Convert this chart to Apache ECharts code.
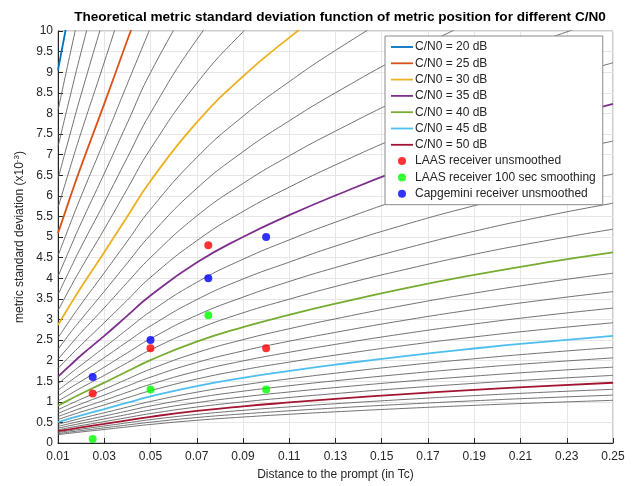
<!DOCTYPE html>
<html>
<head>
<meta charset="utf-8">
<script src="https://cdn.jsdelivr.net/npm/echarts@6/dist/echarts.min.js"></script>
<style>html,body{margin:0;padding:0;background:#fff}#c{width:640px;height:486px}</style>
</head>
<body>
<div id="c"></div>
<script>
// x positions (distance to the prompt, in Tc) at which each curve was read
const xs = [0.01, 0.015, 0.02, 0.03, 0.04, 0.05, 0.07, 0.09, 0.11, 0.13, 0.16, 0.19, 0.22, 0.25];
// metric standard deviation (x1e-3) read for each C/N0 curve (dB-Hz)
const c20 = [9.05, 10.53];
const c21 = [8.07, 9.38, 10.65];
const c22 = [7.19, 8.36, 9.49, 11.63];
const c23 = [6.41, 7.45, 8.46, 10.36];
const c24 = [5.71, 6.64, 7.54, 9.24, 10.98];
const c25 = [5.09, 5.92, 6.72, 8.23, 9.78, 11.31];
const c26 = [4.54, 5.28, 5.99, 7.34, 8.72, 10.08];
const c27 = [4.04, 4.70, 5.34, 6.54, 7.77, 8.99, 10.99];
const c28 = [3.60, 4.19, 4.76, 5.83, 6.93, 8.01, 9.79, 11.20];
const c29 = [3.21, 3.74, 4.24, 5.19, 6.17, 7.14, 8.73, 9.98, 11.04];
const c30 = [2.86, 3.33, 3.78, 4.63, 5.50, 6.36, 7.78, 8.90, 9.84, 10.69];
const c31 = [2.55, 2.97, 3.37, 4.13, 4.90, 5.67, 6.93, 7.93, 8.77, 9.53, 10.57];
const c32 = [2.27, 2.65, 3.00, 3.68, 4.37, 5.05, 6.18, 7.07, 7.82, 8.50, 9.43, 10.25];
const c33 = [2.03, 2.36, 2.68, 3.28, 3.90, 4.50, 5.51, 6.30, 6.97, 7.57, 8.40, 9.13, 9.78, 10.35];
const c34 = [1.81, 2.10, 2.38, 2.92, 3.47, 4.02, 4.91, 5.62, 6.21, 6.75, 7.49, 8.14, 8.72, 9.23];
const c35 = [1.61, 1.87, 2.13, 2.60, 3.09, 3.58, 4.38, 5.00, 5.53, 6.01, 6.67, 7.26, 7.77, 8.23];
const c36 = [1.43, 1.67, 1.89, 2.32, 2.76, 3.19, 3.90, 4.46, 4.93, 5.36, 5.95, 6.47, 6.93, 7.33];
const c37 = [1.28, 1.49, 1.69, 2.07, 2.46, 2.84, 3.48, 3.98, 4.39, 4.78, 5.30, 5.76, 6.17, 6.53];
const c38 = [1.14, 1.33, 1.50, 1.84, 2.19, 2.53, 3.10, 3.54, 3.92, 4.26, 4.72, 5.14, 5.50, 5.82];
const c39 = [1.02, 1.18, 1.34, 1.64, 1.95, 2.26, 2.76, 3.16, 3.49, 3.80, 4.21, 4.58, 4.90, 5.19];
const c40 = [0.905, 1.053, 1.195, 1.464, 1.74, 2.012, 2.46, 2.814, 3.111, 3.382, 3.752, 4.08, 4.37, 4.625];
const c41 = [0.807, 0.939, 1.065, 1.305, 1.551, 1.793, 2.193, 2.508, 2.773, 3.014, 3.344, 3.637, 3.895, 4.122];
const c42 = [0.719, 0.836, 0.949, 1.163, 1.382, 1.598, 1.954, 2.235, 2.471, 2.686, 2.980, 3.241, 3.471, 3.674];
const c43 = [0.641, 0.745, 0.846, 1.036, 1.232, 1.424, 1.741, 1.992, 2.202, 2.394, 2.656, 2.888, 3.094, 3.274];
const c44 = [0.571, 0.664, 0.754, 0.924, 1.098, 1.270, 1.552, 1.776, 1.963, 2.134, 2.368, 2.574, 2.757, 2.918];
const c45 = [0.509, 0.592, 0.672, 0.823, 0.978, 1.131, 1.383, 1.582, 1.749, 1.902, 2.110, 2.294, 2.457, 2.601];
const c46 = [0.454, 0.528, 0.599, 0.734, 0.872, 1.008, 1.233, 1.410, 1.559, 1.695, 1.881, 2.045, 2.190, 2.318];
const c47 = [0.404, 0.470, 0.534, 0.654, 0.777, 0.899, 1.099, 1.257, 1.390, 1.511, 1.676, 1.823, 1.952, 2.066];
const c48 = [0.360, 0.419, 0.476, 0.583, 0.693, 0.801, 0.979, 1.120, 1.239, 1.346, 1.494, 1.624, 1.740, 1.841];
const c49 = [0.321, 0.374, 0.424, 0.519, 0.617, 0.714, 0.873, 0.998, 1.104, 1.200, 1.331, 1.448, 1.550, 1.641];
const c50 = [0.286, 0.333, 0.378, 0.463, 0.550, 0.636, 0.778, 0.890, 0.984, 1.069, 1.186, 1.290, 1.382, 1.462];
const c51 = [0.255, 0.297, 0.337, 0.413, 0.490, 0.567, 0.693, 0.793, 0.877, 0.953, 1.057, 1.150, 1.231, 1.303];
const c52 = [0.227, 0.265, 0.300, 0.368, 0.437, 0.505, 0.618, 0.707, 0.781, 0.850, 0.942, 1.025, 1.098, 1.162];
const c53 = [0.203, 0.236, 0.268, 0.328, 0.390, 0.450, 0.551, 0.630, 0.697, 0.757, 0.840, 0.914, 0.978, 1.036];

// measured points
const measX = [0.025, 0.05, 0.075, 0.1];
const laasUnsmoothed = [1.2, 2.3, 4.8, 2.3];
const laasSmoothed = [0.1, 1.3, 3.1, 1.3];
const capgemini = [1.6, 2.5, 4.0, 5.0];

const allCurves = [c20,c21,c22,c23,c24,c25,c26,c27,c28,c29,c30,c31,c32,c33,c34,c35,c36,c37,c38,c39,c40,c41,c42,c43,c44,c45,c46,c47,c48,c49,c50,c51,c52,c53];
const cn0List = [];
for (let i = 0; i < allCurves.length; i++) cn0List.push(20 + i);
const highlight = {20:'#0072BD',25:'#D95319',30:'#EDB120',35:'#7E2F8E',40:'#77AC30',45:'#4DBEEE',50:'#A2142F'};

const FONT = '"Liberation Sans", Arial, Helvetica, sans-serif';
const series = [];
const colored = [];
allCurves.forEach((arr, i) => {
  const c = cn0List[i];
  const s = {
    type: 'line',
    data: arr.map((y, k) => [xs[k], y]),
    symbol: 'none',
    showSymbol: false,
    smooth: 0.5,
    clip: true,
    silent: true,
    animation: false
  };
  if (highlight[c]) {
    s.name = 'C/N0 = ' + c + ' dB';
    s.lineStyle = {color: highlight[c], width: 1.8};
    s.itemStyle = {color: highlight[c]};
    s.z = 3;
    colored.push(s);
  } else {
    s.lineStyle = {color: '#626262', width: 0.9};
    s.z = 2;
    series.push(s);
  }
});
colored.forEach(s => series.push(s));
function scat(name, vals, color) {
  series.push({
    type: 'scatter', name: name,
    data: vals.map((y, k) => [measX[k], y]),
    symbol: 'circle', symbolSize: 8,
    itemStyle: {color: color},
    z: 5, animation: false
  });
}
scat('LAAS receiver unsmoothed', laasUnsmoothed, '#ff0000');
scat('LAAS receiver 100 sec smoothing', laasSmoothed, '#00ff00');
scat('Capgemini receiver unsmoothed', capgemini, '#0000ff');

const lineIcon = 'path://M0,0 H22 V1.8 H0 Z';
const legendData = [20, 25, 30, 35, 40, 45, 50].map(c => ({name: 'C/N0 = ' + c + ' dB', icon: lineIcon}))
  .concat([
    {name: 'LAAS receiver unsmoothed', icon: 'circle'},
    {name: 'LAAS receiver 100 sec smoothing', icon: 'circle'},
    {name: 'Capgemini receiver unsmoothed', icon: 'circle'}
  ]);

const chart = echarts.init(document.getElementById('c'), null, {renderer: 'canvas'});
chart.setOption({
  animation: false,
  backgroundColor: '#ffffff',
  textStyle: {fontFamily: FONT},
  title: {
    text: 'Theoretical metric standard deviation function of metric position for different C/N0',
    left: 335, textAlign: 'center', top: 5,
    textStyle: {fontSize: 13.6, fontWeight: 'bold', color: '#000', fontFamily: FONT}
  },
  grid: {left: 58, right: 27, top: 31, bottom: 43, show: true, borderColor: '#9a9a9a', borderWidth: 1, backgroundColor: 'transparent'},
  legend: {
    data: legendData,
    orient: 'vertical',
    left: 385, top: 36,
    itemWidth: 22, itemHeight: 8, itemGap: 4.3,
    symbolKeepAspect: true,
    padding: [5, 7, 5, 6],
    backgroundColor: '#ffffff',
    borderColor: '#8a8a8a', borderWidth: 1,
    textStyle: {fontSize: 12, lineHeight: 12, color: '#262626', fontFamily: FONT, padding: [0, 0, 0, -3]},
    selectedMode: false
  },
  xAxis: {
    type: 'value', min: 0.01, max: 0.25, interval: 0.02,
    name: 'Distance to the prompt (in Tc)', nameLocation: 'middle', nameGap: 26,
    nameTextStyle: {fontSize: 12, color: '#262626', fontFamily: FONT},
    axisLine: {show: true, lineStyle: {color: '#262626', width: 1}},
    axisTick: {show: true, inside: true, length: 5, lineStyle: {color: '#262626'}},
    axisLabel: {fontSize: 12, color: '#262626', margin: 8, fontFamily: FONT,
      formatter: v => v.toFixed(2)},
    splitLine: {show: true, lineStyle: {color: '#e6e6e6', width: 1}}
  },
  yAxis: {
    type: 'value', min: 0, max: 10, interval: 0.5,
    name: 'metric standard deviation (x10{sup|-3})', nameLocation: 'middle', nameGap: 30,
    nameTextStyle: {fontSize: 12, color: '#262626', fontFamily: FONT,
      rich: {sup: {fontSize: 8, color: '#262626', fontFamily: FONT, verticalAlign: 'top', padding: [0, 0, 6, 0]}}},
    axisLine: {show: true, lineStyle: {color: '#262626', width: 1}},
    axisTick: {show: true, inside: true, length: 5, lineStyle: {color: '#262626'}},
    axisLabel: {fontSize: 12, color: '#262626', margin: 5, fontFamily: FONT,
      formatter: v => String(Math.round(v * 10) / 10)},
    splitLine: {show: true, lineStyle: {color: '#e6e6e6', width: 1}}
  },
  series: series
});
</script>
</body>
</html>
